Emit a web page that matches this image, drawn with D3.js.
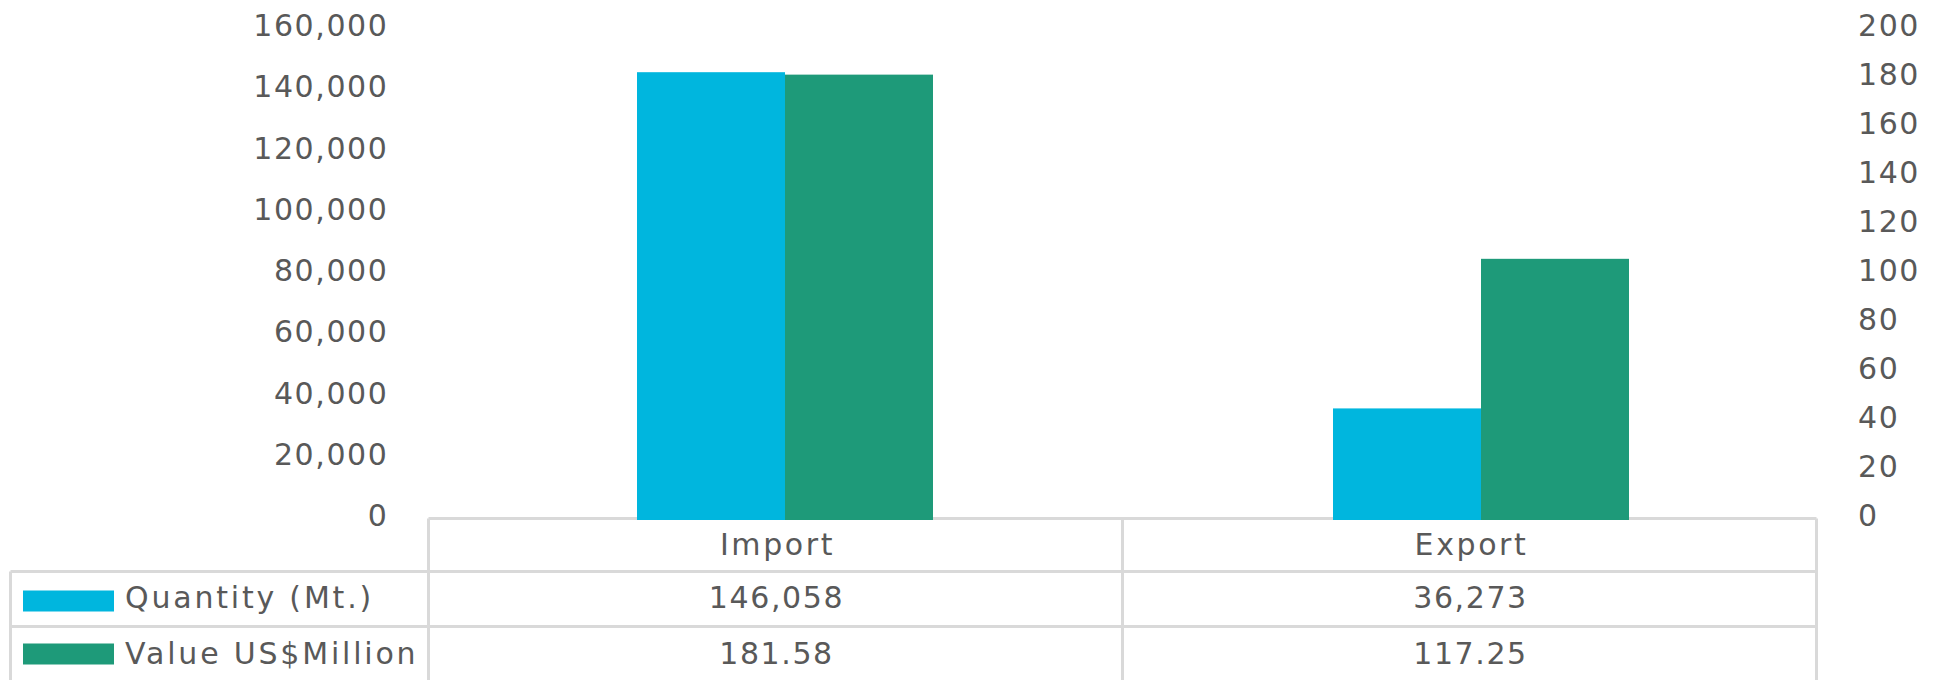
<!DOCTYPE html>
<html>
<head>
<meta charset="utf-8">
<script src="https://cdn.jsdelivr.net/npm/d3@7"></script>
<style>
body { margin: 0; background: #fff; }
text { font-family: "DejaVu Sans", sans-serif; font-size: 30px; fill: #595959; letter-spacing: 1.6px; }
text.cat { letter-spacing: 2.6px; }
text.key { letter-spacing: 2.8px; }
</style>
</head>
<body>
<div id="container"></div>
<script>
var width = 1936;
var height = 680;

// data
var categories = ["Import", "Export"];
var seriesNames = ["Quantity (Mt.)", "Value US$Million"];
var quantity = [146058, 36273];
var value = [181.58, 106.4];            // bar heights as they are drawn
var quantityLabels = ["146,058", "36,273"];
var valueLabels = ["181.58", "117.25"];  // as printed in the data table
var leftTicks = [0, 20000, 40000, 60000, 80000, 100000, 120000, 140000, 160000];
var rightTicks = [0, 20, 40, 60, 80, 100, 120, 140, 160, 180, 200];
var colors = ["#00b6de", "#1e9a79"];

var svg = d3.select("div#container").append("svg")
    .attr("width", width)
    .attr("height", height);

// scales
var groupWidth = 296;
var x = d3.scaleBand().domain(categories).range([437, 1829]);
var x1 = d3.scaleBand().domain(seriesNames).range([0, groupWidth]);
var tableX = d3.scaleBand().domain(categories).range([428.5, 1816.5]);
var yLeft = d3.scaleLinear().domain([0, 160000]).range([519.5, 29.5]);
var yRight = d3.scaleLinear().domain([0, 200]).range([519.5, 29.5]);

// data table grid
var rowTops = [518.5, 571.5, 626.5];
var tableBottom = 681.5;
var grid = svg.append("g")
    .attr("stroke", "#d9d9d9")
    .attr("stroke-width", 3)
    .attr("fill", "none");

grid.append("line")
    .attr("x1", tableX.range()[0]).attr("x2", tableX.range()[1])
    .attr("y1", rowTops[0]).attr("y2", rowTops[0]);
[rowTops[1], rowTops[2], tableBottom].forEach(function(y) {
    grid.append("line")
        .attr("x1", 10.5).attr("x2", tableX.range()[1])
        .attr("y1", y).attr("y2", y);
});
grid.append("line")
    .attr("x1", 10.5).attr("x2", 10.5)
    .attr("y1", rowTops[1]).attr("y2", tableBottom);
var edges = categories.map(function(c) { return tableX(c); }).concat([tableX.range()[1]]);
edges.forEach(function(ex) {
    grid.append("line")
        .attr("x1", ex).attr("x2", ex)
        .attr("y1", rowTops[0]).attr("y2", tableBottom);
});

// bars
var rows = categories.map(function(c, i) {
    return { cat: c, vals: [
        { name: seriesNames[0], v: quantity[i], scale: yLeft, color: colors[0] },
        { name: seriesNames[1], v: value[i], scale: yRight, color: colors[1] }
    ]};
});

var groups = svg.selectAll("g.group")
    .data(rows)
    .enter()
    .append("g")
    .attr("class", "group")
    .attr("transform", function(d) {
        return "translate(" + (x(d.cat) + (x.bandwidth() - groupWidth) / 2) + ",0)";
    });

groups.selectAll("rect")
    .data(function(d) { return d.vals; })
    .enter()
    .append("rect")
    .attr("x", function(d) { return x1(d.name); })
    .attr("width", x1.bandwidth())
    .attr("y", function(d) { return d.scale(d.v); })
    .attr("height", function(d) { return d.scale(0) - d.scale(d.v) + 0.5; })
    .attr("fill", function(d) { return d.color; });

// axes
var leftAxis = svg.append("g")
    .attr("transform", "translate(388.5,0)")
    .call(d3.axisLeft(yLeft).tickValues(leftTicks).tickSize(0).tickPadding(0).tickFormat(d3.format(",")));
leftAxis.select(".domain").remove();
leftAxis.selectAll("text").attr("dy", 6);

var rightAxis = svg.append("g")
    .attr("transform", "translate(1858,0)")
    .call(d3.axisRight(yRight).tickValues(rightTicks).tickSize(0).tickPadding(0));
rightAxis.select(".domain").remove();
rightAxis.selectAll("text").attr("dy", 6);

// table text
svg.selectAll("text.cat")
    .data(categories)
    .enter()
    .append("text")
    .attr("class", "cat")
    .attr("x", function(d) { return tableX(d) + tableX.bandwidth() / 2 + 2; })
    .attr("y", rowTops[0] + 36)
    .attr("text-anchor", "middle")
    .text(function(d) { return d; });

[quantityLabels, valueLabels].forEach(function(labels, r) {
    svg.selectAll("text.row" + r)
        .data(labels)
        .enter()
        .append("text")
        .attr("class", "row" + r)
        .attr("x", function(d, i) { return tableX(categories[i]) + tableX.bandwidth() / 2 + 1; })
        .attr("y", rowTops[r + 1] + 36 + r)
        .attr("text-anchor", "middle")
        .text(function(d) { return d; });
});

// legend keys in the table
seriesNames.forEach(function(name, r) {
    svg.append("rect")
        .attr("x", 23)
        .attr("y", rowTops[r + 1] + 19 - 2 * r)
        .attr("width", 91)
        .attr("height", 21)
        .attr("fill", colors[r]);
    svg.append("text")
        .attr("class", "key")
        .attr("x", 125)
        .attr("y", rowTops[r + 1] + 36 + r)
        .text(name);
});
</script>
</body>
</html>
